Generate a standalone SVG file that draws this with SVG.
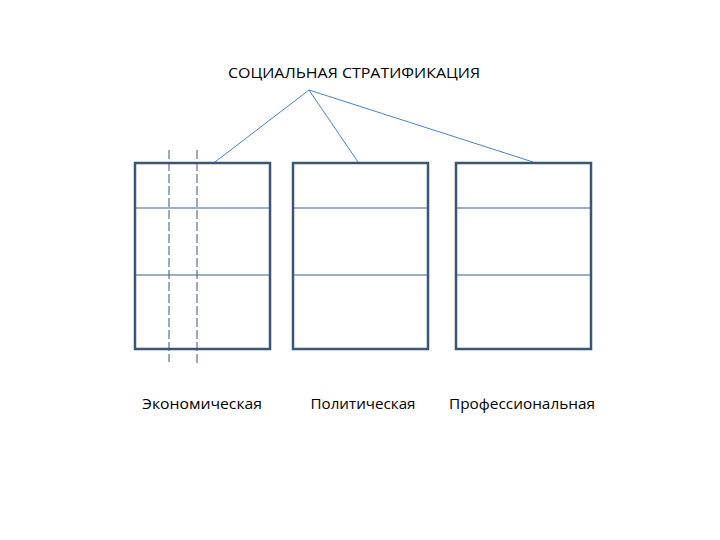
<svg xmlns="http://www.w3.org/2000/svg" width="720" height="540" viewBox="0 0 720 540">
<style>
.t{font-family:"Open Sans","Liberation Sans",sans-serif;font-size:14px;fill:#000;text-anchor:middle}
.box{fill:#fff;stroke:#3b5576;stroke-width:2.5}
.row{stroke:#3f6088;stroke-width:1.2}
.con{stroke:#4f81bd;stroke-width:1;fill:none}
.dash{stroke:#3b5576;stroke-width:1;stroke-dasharray:9,3}
</style>
<rect width="720" height="540" fill="#fff"/>
<text class="t" x="354" y="78" textLength="252" lengthAdjust="spacingAndGlyphs">СОЦИАЛЬНАЯ СТРАТИФИКАЦИЯ</text>
<g id="connectors">
<line class="con" x1="309" y1="90" x2="215" y2="162"/>
<line class="con" x1="309" y1="90" x2="358" y2="162"/>
<line class="con" x1="309" y1="90" x2="533" y2="162"/>
</g>
<g id="economic">
<rect class="box" x="135" y="163" width="135" height="186"/>
<line class="row" x1="135" y1="208" x2="270" y2="208"/>
<line class="row" x1="135" y1="275" x2="270" y2="275"/>
<line class="dash" x1="169" y1="150" x2="169" y2="362"/>
<line class="dash" x1="197" y1="150" x2="197" y2="366"/>
<text class="t" x="202" y="409" textLength="120" lengthAdjust="spacingAndGlyphs">Экономическая</text>
</g>
<g id="political">
<rect class="box" x="293" y="163" width="135" height="186"/>
<line class="row" x1="293" y1="208" x2="428" y2="208"/>
<line class="row" x1="293" y1="275" x2="428" y2="275"/>
<text class="t" x="363" y="409" textLength="105" lengthAdjust="spacingAndGlyphs">Политическая</text>
</g>
<g id="professional">
<rect class="box" x="456" y="163" width="135" height="186"/>
<line class="row" x1="456" y1="208" x2="591" y2="208"/>
<line class="row" x1="456" y1="275" x2="591" y2="275"/>
<text class="t" x="522" y="409" textLength="146" lengthAdjust="spacingAndGlyphs">Профессиональная</text>
</g>
</svg>
